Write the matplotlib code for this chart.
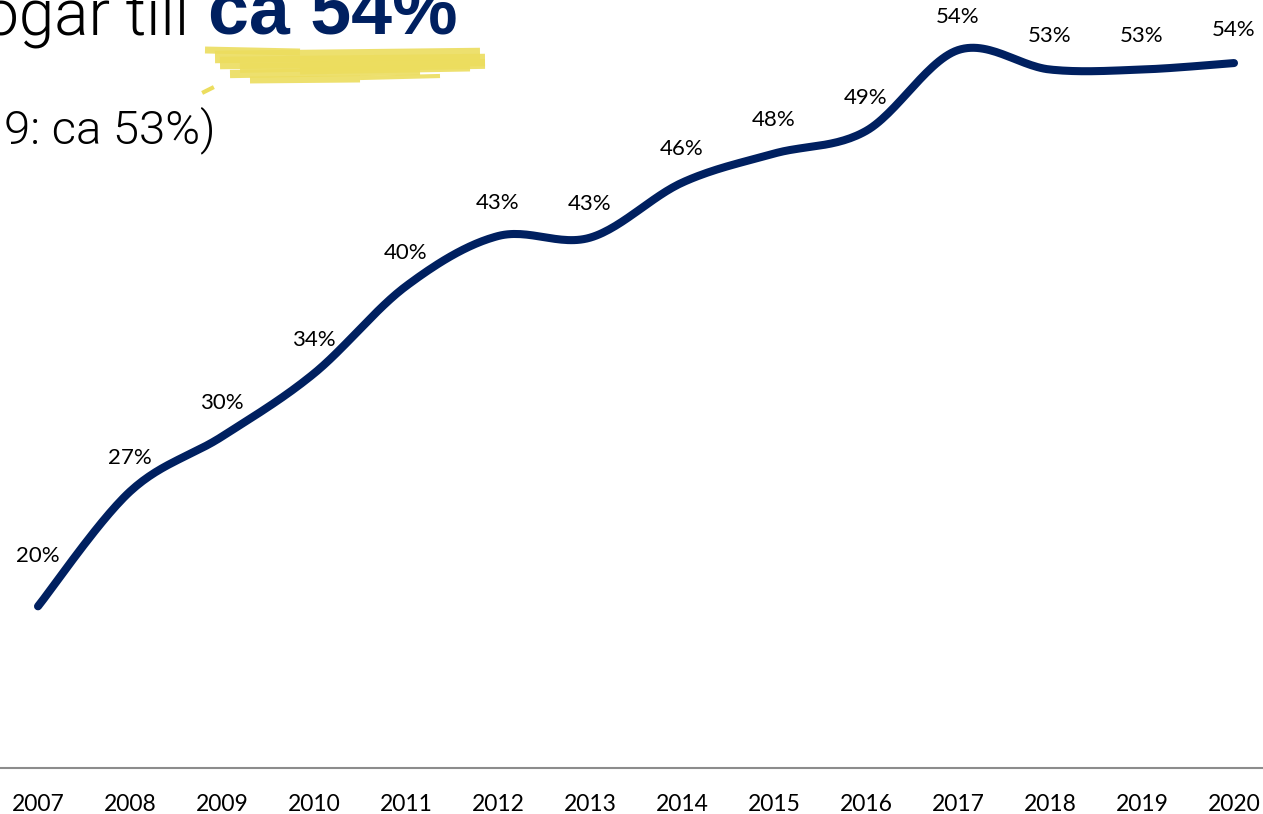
import numpy as np
import matplotlib
matplotlib.use("Agg")
import matplotlib.pyplot as plt
from matplotlib.lines import Line2D

# data
years = [2007, 2008, 2009, 2010, 2011, 2012, 2013, 2014, 2015, 2016, 2017, 2018, 2019, 2020]
shares = [20.0, 27.1, 30.5, 34.4, 39.8, 42.9, 42.8, 46.2, 48.0, 49.4, 54.4, 53.2, 53.2, 53.6]
labels = ["20%", "27%", "30%", "34%", "40%", "43%", "43%", "46%", "48%", "49%",
          "54%", "53%", "53%", "54%"]

NAVY = "#002060"
YELLOW = "#ECDD5E"


def smooth(xs, ys, n=30):
    # excel-style smoothed line (catmull-rom as bezier segments)
    xs = np.asarray(xs, float)
    ys = np.asarray(ys, float)
    px = np.concatenate([[xs[0]], xs, [xs[-1]]])
    py = np.concatenate([[ys[0]], ys, [ys[-1]]])
    t = np.linspace(0, 1, n)
    outx, outy = [], []
    for i in range(1, len(px) - 2):
        p0 = np.array([px[i], py[i]])
        p3 = np.array([px[i + 1], py[i + 1]])
        c1 = p0 + (p3 - np.array([px[i - 1], py[i - 1]])) / 6
        c2 = p3 - (np.array([px[i + 2], py[i + 2]]) - p0) / 6
        b = ((1 - t) ** 3)[:, None] * p0 + (3 * (1 - t) ** 2 * t)[:, None] * c1 \
            + (3 * (1 - t) * t ** 2)[:, None] * c2 + (t ** 3)[:, None] * p3
        outx.extend(b[:, 0])
        outy.extend(b[:, 1])
    return np.array(outx), np.array(outy)


W, H = 1263, 814
fig = plt.figure(figsize=(W / 100, H / 100), dpi=100)
ax = fig.add_axes([0, 46 / H, 1, 768 / H])

sx, sy = smooth(years, shares)
ax.plot(sx, sy, color=NAVY, lw=5.8, solid_capstyle="round", zorder=3)

for x, y, lab in zip(years, shares, labels):
    off = 36 if x == years[0] else 24
    ax.annotate(lab, (x, y), xytext=(0, off), textcoords="offset points",
                ha="center", va="center", fontsize=16, family="Lato", color="black")

ax.set_xlim(2007 - 38 / 92, 2007 + (W - 38) / 92)
ax.set_ylim(10, 57.5)
ax.set_xticks(years)
ax.set_xticklabels([str(y) for y in years], fontsize=16.5, family="Lato")
ax.tick_params(axis="x", length=0, pad=19)
ax.set_yticks([])
for s in ["top", "left", "right"]:
    ax.spines[s].set_visible(False)
ax.spines["bottom"].set_color("#8c8c8c")
ax.spines["bottom"].set_linewidth(1.5)

# yellow brush highlight under the title
strokes = [(205, 300, 50, 52, 5), (215, 480, 57, 54, 9), (220, 485, 63, 60, 9),
           (240, 485, 68, 64, 7), (230, 420, 74, 71, 6), (250, 360, 80, 79, 5),
           (300, 470, 71, 68, 5), (360, 440, 78, 76, 3)]
for x0, x1, y0, y1, lw in strokes:
    fig.add_artist(Line2D([x0 / W, x1 / W], [1 - y0 / H, 1 - y1 / H],
                          transform=fig.transFigure, color=YELLOW, lw=lw, alpha=0.9,
                          solid_capstyle="butt"))
fig.add_artist(Line2D([204 / W, 212 / W], [1 - 92 / H, 1 - 88 / H],
                      transform=fig.transFigure, color=YELLOW, lw=3))

# title (left part cut off like in the slide crop)
fig.text(189 / W, 1 - 34 / H, "ogar till", ha="right", va="baseline",
         fontsize=46, family="Roboto", fontweight=300, color="black")
fig.text(208 / W, 1 - 34 / H, "ca 54%", ha="left", va="baseline",
         fontsize=53, family="Liberation Sans", fontweight="bold", color=NAVY)
fig.text(216 / W, 1 - 143 / H, "9: ca 53%)", ha="right", va="baseline",
         fontsize=34, family="Roboto", fontweight=300, color="black")

fig.savefig("out.png", dpi=100)
